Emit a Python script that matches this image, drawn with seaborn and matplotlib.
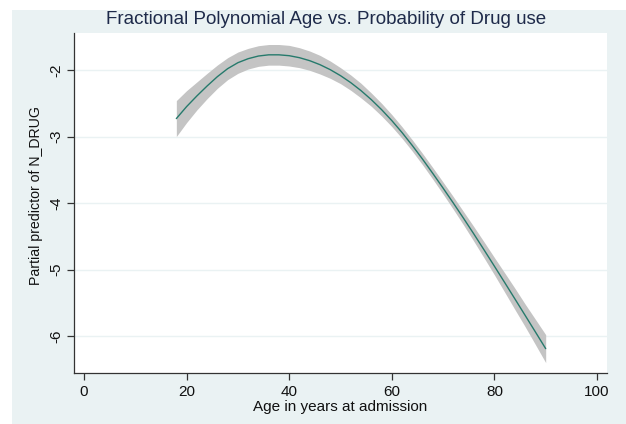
import matplotlib
matplotlib.use("Agg")
import matplotlib.pyplot as plt
import seaborn as sns
import pandas as pd

# ---- data ----
age = [18, 20, 22, 24, 26, 28, 30, 32, 34, 36, 38, 40, 42, 44, 46, 48, 50,
       52, 54, 56, 58, 60, 62, 64, 66, 68, 70, 72, 74, 76, 78, 80, 82, 84,
       86, 88, 90]
fit = [-2.73, -2.55, -2.39, -2.24, -2.10, -1.98, -1.89, -1.83, -1.79, -1.772,
       -1.772, -1.785, -1.815, -1.86, -1.92, -1.995, -2.085, -2.19, -2.31,
       -2.445, -2.595, -2.76, -2.94, -3.135, -3.34, -3.555, -3.775, -4.0,
       -4.23, -4.465, -4.705, -4.948, -5.193, -5.44, -5.688, -5.937, -6.187]
upper = [-2.46, -2.31, -2.18, -2.05, -1.925, -1.815, -1.73, -1.675, -1.635,
         -1.617, -1.617, -1.63, -1.665, -1.715, -1.78, -1.865, -1.965, -2.075,
         -2.20, -2.345, -2.50, -2.67, -2.853, -3.05, -3.255, -3.468, -3.685,
         -3.905, -4.13, -4.355, -4.585, -4.818, -5.048, -5.28, -5.518, -5.747,
         -5.977]
lower = [-3.00, -2.79, -2.60, -2.43, -2.275, -2.145, -2.05, -1.985, -1.945,
         -1.927, -1.927, -1.94, -1.965, -2.005, -2.06, -2.125, -2.205, -2.305,
         -2.42, -2.545, -2.69, -2.85, -3.027, -3.22, -3.425, -3.642, -3.865,
         -4.095, -4.33, -4.575, -4.825, -5.078, -5.338, -5.60, -5.858, -6.127,
         -6.397]
xticks = [0, 20, 40, 60, 80, 100]
yticks = [-2, -3, -4, -5, -6]

df = pd.DataFrame({"age": age, "fit": fit, "lo": lower, "hi": upper})

sns.set_style("white")
plt.rcParams["font.family"] = ["Liberation Sans", "DejaVu Sans"]

W, H = 626, 424
fig = plt.figure(figsize=(W / 100, H / 100), dpi=100, facecolor="white")
bg = "#eaf2f3"

# background panel (graph region), inset from top-left like the reference
bgax = fig.add_axes([12 / W, 0, 1 - 12 / W, 1 - 10 / H], zorder=-5)
bgax.set_facecolor(bg)
bgax.set_xticks([])
bgax.set_yticks([])
for s in bgax.spines.values():
    s.set_visible(False)

ax = fig.add_axes([74 / W, 1 - 373 / H, (607 - 74) / W, (373 - 33) / H], zorder=1)
ax.set_facecolor("white")

ax.fill_between(df["age"], df["lo"], df["hi"], color="#c4c4c4", lw=0, zorder=2)
sns.lineplot(data=df, x="age", y="fit", ax=ax, color="#267a6c", lw=1.0,
             zorder=3, estimator=None, sort=False)

ax.set_xlim(-1.95, 101.95)
ax.set_ylim(-6.553, -1.444)
ax.set_xticks(xticks)
ax.set_yticks(yticks)
ax.set_xticklabels([str(t) for t in xticks], fontsize=11, color="#111111")
ax.set_yticklabels([str(t) for t in yticks], fontsize=11, color="#111111",
                   rotation=90, va="center")
for y in yticks:
    ax.axhline(y, color=bg, lw=1.0, zorder=1)

for s in ["top", "right"]:
    ax.spines[s].set_visible(False)
for s in ["left", "bottom"]:
    ax.spines[s].set_color("#333333")
    ax.spines[s].set_linewidth(0.9)
ax.tick_params(axis="x", direction="out", length=5, width=0.9,
               color="#333333", pad=3.5, bottom=True)
ax.tick_params(axis="y", direction="out", length=5, width=0.9,
               color="#333333", pad=3, left=True)

ax.set_xlabel("Age in years at admission", fontsize=11, color="#111111")
ax.xaxis.set_label_coords(0.5, -0.078)
ax.set_ylabel("Partial predictor of N_DRUG", fontsize=10.2, color="#111111",
              va="center")
ax.yaxis.set_label_coords(-0.071, 0.523)

fig.text(326 / W, 1 - 19.5 / H,
         "Fractional Polynomial Age vs. Probability of Drug use",
         ha="center", va="center", fontsize=13.5, color="#1e2a4a")

fig.savefig("out.png", dpi=100, facecolor="white")
